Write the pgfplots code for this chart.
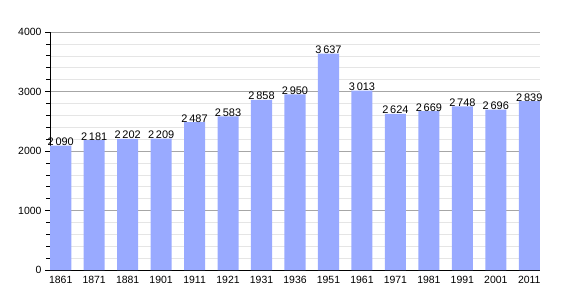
\documentclass[border=0pt]{standalone}
\usepackage{pgfplots}
\pgfplotsset{compat=1.18}
\usepackage{fontspec}
\setmainfont{Liberation Sans}
\definecolor{barblue}{RGB}{153,170,255}
\begin{document}
\begin{tikzpicture}
\path[use as bounding box] (0,0) rectangle (570bp,300bp);
\begin{axis}[
  at={(50bp,30bp)}, anchor=south west,
  scale only axis, width=490bp, height=238bp,
  xmin=-0.32, xmax=14.32, ymin=0, ymax=4000,
  axis x line*=bottom, axis y line*=left,
  axis line style={black, line width=0.8pt},
  xtick=data,
  xticklabels={1861,1871,1881,1901,1911,1921,1931,1936,1951,1961,1971,1981,1991,2001,2011},
  x tick style={draw=none},
  ytick={0,1000,2000,3000,4000},
  minor y tick num=4,
  y tick style={black, line width=0.6pt},
  major tick length=5bp, minor tick length=4bp,
  tick align=outside,
  ymajorgrids, yminorgrids,
  major grid style={draw=black!35, line width=0.6pt},
  minor grid style={draw=black!10, line width=0.5pt},
  tick label style={font=\fontsize{10.5}{12}\selectfont},
  /pgf/number format/assume math mode=true,
  yticklabel style={/pgf/number format/1000 sep={}},
  xticklabel style={yshift=2bp},
  ybar, bar width=0.63,
  nodes near coords,
  nodes near coords style={font=\fontsize{11}{13}\selectfont, anchor=base, inner sep=0pt, yshift=0bp,
    /pgf/number format/1000 sep={\,}},
  clip=false,
]
\addplot[fill=barblue, draw=none] coordinates {
(0,2090) (1,2181) (2,2202) (3,2209) (4,2487) (5,2583) (6,2858) (7,2950)
(8,3637) (9,3013) (10,2624) (11,2669) (12,2748) (13,2696) (14,2839)};
\end{axis}
\end{tikzpicture}
\end{document}
